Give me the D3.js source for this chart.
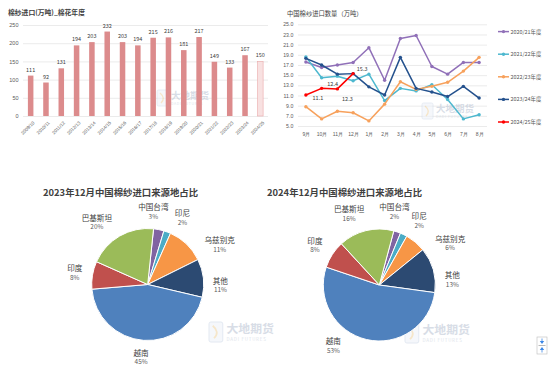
<!DOCTYPE html>
<html>
<head>
<meta charset="utf-8">
<script src="https://cdn.jsdelivr.net/npm/d3@7"></script>
<style>
  body { margin: 0; background: #fff; }
  svg { display: block; font-family: "Noto Sans CJK SC", "Noto Sans", sans-serif; }
</style>
</head>
<body>
<div id="app"></div>
<script>
// ---- data ----
const seasons = ["2009/10", "2010/11", "2011/12", "2012/13", "2013/14", "2014/15", "2015/16", "2016/17",
  "2017/18", "2018/19", "2019/20", "2020/21", "2021/22", "2022/23", "2023/24", "2024/25"];
const yarnImports = [111, 92, 131, 194, 203, 232, 203, 194, 215, 216, 181, 217, 149, 133, 167, 150];
const barTicks = [0, 50, 100, 150, 200, 250];

const months = ["9月", "10月", "11月", "12月", "1月", "2月", "3月", "4月", "5月", "6月", "7月", "8月"];
const lineSeasons = ["2020/21年度", "2021/22年度", "2022/23年度", "2023/24年度", "2024/25年度"];
const imp2020 = [17.6, 16.5, 17.0, 17.5, 20.4, 14.0, 22.2, 22.8, 16.7, 15.2, 17.5, 17.5];
const imp2021 = [18.6, 14.5, 14.8, 13.9, 15.2, 10.0, 12.4, 11.9, 13.1, 10.2, 6.4, 7.2];
const imp2022 = [8.8, 6.4, 7.9, 7.6, 6.0, 9.3, 13.7, 12.2, 12.8, 13.6, 15.8, 18.5];
const imp2023 = [18.3, 17.0, 15.2, 15.3, 12.7, 11.1, 18.5, 12.4, 11.7, 10.8, 12.8, 10.5];
const imp2024 = [11.1, 12.4, 12.3, 15.3];
const lineTicks = [5, 7, 9, 11, 13, 15, 17, 19, 21, 23, 25];

const origins = ["中国台湾", "印尼", "乌兹别克", "其他", "越南", "印度", "巴基斯坦"];
const share2023 = [3, 2, 11, 11, 45, 8, 20];
const share2024 = [2, 2, 6, 13, 53, 8, 16];

// ---- layout ----
const W = 550, H = 370;
const BAR = { left: 23, right: 268, top: 25, bottom: 116 };
const LINE = { left: 298, right: 487, top: 24.3, bottom: 126 };
const GRID = "#e3e3e3";
const AXIS_TEXT = "#595959";
const LABEL_TEXT = "#404040";
const LINE_COLORS = ["#9070b8", "#4db8cf", "#f7a15c", "#24518d", "#ff0000"];
const PIE_COLORS = ["#8064a2", "#4bacc6", "#f79646", "#2c4a72", "#4f81bd", "#c0504d", "#9bbb59"];
const RADIUS = 56;

const svg = d3.select("#app").append("svg")
  .attr("width", W)
  .attr("height", H);

const watermark = (x, y, k) => {
  const g = svg.append("g").attr("transform", `translate(${x},${y}) scale(${k})`).attr("opacity", 0.55);
  g.append("rect").attr("x", 0).attr("y", 0).attr("width", 11).attr("height", 16).attr("rx", 1.5)
    .attr("fill", "#eef2f8").attr("stroke", "#cdd8e8").attr("stroke-width", 0.8);
  g.append("path").attr("d", "M3,3 Q9,8 4,13").attr("fill", "none").attr("stroke", "#efd3a0").attr("stroke-width", 1.4);
  g.append("text").attr("x", 14).attr("y", 9).attr("font-size", 9.5).attr("font-weight", "bold")
    .attr("fill", "#b9c3d3").text("大地期货");
  g.append("text").attr("x", 14).attr("y", 15).attr("font-size", 3.6).attr("fill", "#c3ccd9")
    .attr("letter-spacing", 0.6).text("DADI FUTURES");
};

// ---- bar chart ----
const drawBars = () => {
  const x = d3.scaleBand().domain(seasons).range([BAR.left, BAR.right]).paddingInner(0.64).paddingOuter(0.32);
  const y = d3.scaleLinear().domain([0, 250]).range([BAR.bottom, BAR.top]);

  svg.append("text").attr("x", 8).attr("y", 15).attr("font-size", 6.8).attr("font-weight", "bold")
    .attr("fill", LABEL_TEXT).text("棉纱进口(万吨)_棉花年度");

  const yAxis = svg.append("g").attr("transform", `translate(${BAR.left},0)`)
    .call(d3.axisLeft(y).tickValues(barTicks).tickSize(-(BAR.right - BAR.left)).tickPadding(4.5));
  yAxis.select(".domain").remove();
  yAxis.selectAll("line").attr("stroke", GRID).attr("stroke-width", 0.7);
  yAxis.selectAll("text").attr("font-size", 5.5).attr("fill", AXIS_TEXT).attr("font-family", null);

  watermark(157, 90, 1);

  svg.append("g").selectAll("rect").data(seasons).join("rect")
    .attr("x", d => x(d))
    .attr("y", (d, i) => y(yarnImports[i]))
    .attr("width", x.bandwidth())
    .attr("height", (d, i) => y(0) - y(yarnImports[i]))
    .attr("fill", (d, i) => i === seasons.length - 1 ? "#f8e1e1" : "#dc8b8c")
    .attr("stroke", (d, i) => i === seasons.length - 1 ? "#eaa9aa" : "none")
    .attr("stroke-width", 0.6);

  svg.append("g").selectAll("text").data(seasons).join("text")
    .attr("x", d => x(d) + x.bandwidth() / 2)
    .attr("y", (d, i) => y(yarnImports[i]) - 4)
    .attr("text-anchor", "middle")
    .attr("font-size", 5.5)
    .attr("fill", LABEL_TEXT)
    .text((d, i) => yarnImports[i]);

  const xAxis = svg.append("g").attr("transform", `translate(0,${BAR.bottom})`)
    .call(d3.axisBottom(x).tickSize(0).tickPadding(0));
  xAxis.select(".domain").remove();
  xAxis.selectAll("text")
    .attr("font-size", 4.6)
    .attr("fill", AXIS_TEXT)
    .attr("font-family", null)
    .attr("text-anchor", "end")
    .attr("dy", "0.35em")
    .attr("transform", "translate(3,6) rotate(-45)");
};

// ---- line chart ----
const drawLines = () => {
  const x = d3.scalePoint().domain(months).range([LINE.left, LINE.right]).padding(0.5);
  const y = d3.scaleLinear().domain([5, 25]).range([LINE.bottom, LINE.top]);
  const series = [imp2020, imp2021, imp2022, imp2023, imp2024];

  svg.append("text").attr("x", 287).attr("y", 15.5).attr("font-size", 6.3)
    .attr("fill", LABEL_TEXT).text("中国棉纱进口数量（万吨）");

  const yAxis = svg.append("g").attr("transform", `translate(${LINE.left},0)`)
    .call(d3.axisLeft(y).tickValues(lineTicks).tickFormat(d3.format(".1f"))
      .tickSize(-(LINE.right - LINE.left)).tickPadding(4.7));
  yAxis.select(".domain").remove();
  yAxis.selectAll("line").attr("stroke", GRID).attr("stroke-width", 0.7);
  yAxis.selectAll("text").attr("font-size", 5.2).attr("fill", AXIS_TEXT).attr("font-family", null);

  const xAxis = svg.append("g").attr("transform", `translate(0,${LINE.bottom})`)
    .call(d3.axisBottom(x).tickSize(0).tickPadding(6));
  xAxis.select(".domain").remove();
  xAxis.selectAll("text").attr("font-size", 5).attr("fill", AXIS_TEXT).attr("font-family", null);

  watermark(422, 103, 1);

  const line = d3.line()
    .x((d, i) => x(months[i]))
    .y(d => y(d));

  series.forEach((vals, k) => {
    const g = svg.append("g");
    g.append("path").datum(vals)
      .attr("d", line)
      .attr("fill", "none")
      .attr("stroke", LINE_COLORS[k])
      .attr("stroke-width", 1.5)
      .attr("stroke-linejoin", "round");
    g.selectAll("circle").data(vals).join("circle")
      .attr("cx", (d, i) => x(months[i]))
      .attr("cy", d => y(d))
      .attr("r", 1.7)
      .attr("fill", LINE_COLORS[k]);
  });

  // value labels on the latest season
  const offsets = [[12, 3], [11, -4], [10, 10], [9, -4.5]];
  svg.append("g").selectAll("text").data(imp2024).join("text")
    .attr("x", (d, i) => x(months[i]) + offsets[i][0])
    .attr("y", (d, i) => y(d) + offsets[i][1])
    .attr("text-anchor", "middle")
    .attr("dominant-baseline", "central")
    .attr("font-size", 5.5)
    .attr("fill", LABEL_TEXT)
    .text(d => d.toFixed(1));

  const legend = svg.append("g").selectAll("g").data(lineSeasons).join("g")
    .attr("transform", (d, i) => `translate(498,${31.6 + i * 22.6})`);
  legend.append("line").attr("x1", 0).attr("x2", 11)
    .attr("stroke", (d, i) => LINE_COLORS[i]).attr("stroke-width", 1.5);
  legend.append("circle").attr("cx", 5.5).attr("r", 1.7).attr("fill", (d, i) => LINE_COLORS[i]);
  legend.append("text").attr("x", 12.5).attr("dominant-baseline", "central")
    .attr("font-size", 5.4).attr("fill", AXIS_TEXT).text(d => d);
};

// ---- pies ----
const drawPie = ({ cx, cy, title, titleX, shares, start, nudges, mark }) => {
  svg.append("text").attr("x", titleX).attr("y", 195.5).attr("font-size", 9.4).attr("font-weight", "bold")
    .attr("fill", LABEL_TEXT).text(title);

  watermark(mark[0], mark[1], 1.25);

  const data = origins.map((name, i) => ({ name, value: shares[i], color: PIE_COLORS[i] }));
  const pie = d3.pie().sort(null).value(d => d.value)
    .startAngle(start * Math.PI / 180).endAngle(start * Math.PI / 180 + 2 * Math.PI);
  const arc = d3.arc().innerRadius(0).outerRadius(RADIUS);
  const g = svg.append("g").attr("transform", `translate(${cx},${cy})`);

  const arcs = pie(data);
  g.selectAll("path").data(arcs).join("path")
    .attr("d", arc)
    .attr("fill", d => d.data.color)
    .attr("stroke", "#fff")
    .attr("stroke-width", 1);

  const labels = g.selectAll("g.lbl").data(arcs).join("g").attr("class", "lbl")
    .attr("transform", (d, i) => {
      const a = (d.startAngle + d.endAngle) / 2 + nudges[i] * Math.PI / 180;
      const s = Math.sin(a), c = Math.cos(a);
      const hw = d.data.name.length * 7.6 / 2 + 2;
      const dist = RADIUS + 7 + Math.abs(s) * hw + Math.abs(c) * 9;
      return `translate(${dist * s},${-dist * c})`;
    });
  labels.append("text").attr("y", -4.7).attr("text-anchor", "middle").attr("dominant-baseline", "central")
    .attr("font-size", 7.6).attr("fill", LABEL_TEXT).text(d => d.data.name);
  labels.append("text").attr("y", 4.9).attr("text-anchor", "middle").attr("dominant-baseline", "central")
    .attr("font-size", 6.4).attr("fill", AXIS_TEXT).text(d => d.data.value + "%");
};

const drawIcon = () => {
  const g = svg.append("g").attr("transform", "translate(537,337)");
  g.append("rect").attr("width", 10).attr("height", 17).attr("fill", "#fff").attr("stroke", "#bdbdbd").attr("stroke-width", 0.6);
  g.append("line").attr("x1", 1.5).attr("x2", 8.5).attr("y1", 8.5).attr("y2", 8.5).attr("stroke", "#8a8a8a").attr("stroke-width", 0.6);
  g.append("path").attr("d", "M5,7 L2.8,4 L7.2,4 Z M5,10 L2.8,13 L7.2,13 Z").attr("fill", "#3a86e6");
  g.append("path").attr("d", "M5,1.5 V4 M5,13 V15.5").attr("stroke", "#3a86e6").attr("stroke-width", 0.8);
};

drawBars();
drawLines();
drawPie({
  cx: 147.7, cy: 284.5, title: "2023年12月中国棉纱进口来源地占比", titleX: 43,
  shares: share2023, start: 6, nudges: [-7, 7, 17, 7, 1, 0, -9], mark: [209, 322]
});
drawPie({
  cx: 379.3, cy: 285, title: "2024年12月中国棉纱进口来源地占比", titleX: 267,
  shares: share2024, start: 15, nudges: [-7, 6, 19, 11, 24, -1, -9], mark: [405, 323]
});
drawIcon();
</script>
</body>
</html>
